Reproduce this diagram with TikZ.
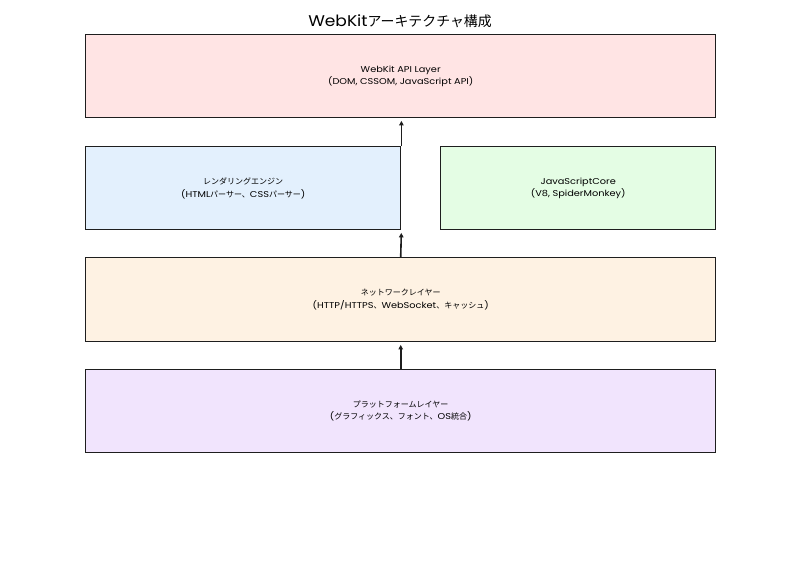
\documentclass[tikz,border=0pt]{standalone}
\usepackage{fontspec}
\setmainfont{Poppins}[FakeStretch=1.15]
\newfontfamily\ttl{Poppins}[FakeStretch=1.1]
\newfontfamily\jpw{Noto Sans CJK JP}
\newcommand{\tou}{{\jpw\fontsize{8}{12.5}\selectfont 、}}
\newcommand{\jt}[1]{{\jpw\fontsize{8}{12.5}\selectfont #1}}
\usetikzlibrary{arrows.meta}
\definecolor{apifill}{RGB}{255,228,228}
\definecolor{rendfill}{RGB}{227,240,253}
\definecolor{jsfill}{RGB}{228,253,228}
\definecolor{netfill}{RGB}{254,242,227}
\definecolor{platfill}{RGB}{241,228,253}
\definecolor{edge}{RGB}{30,30,30}
\tikzset{
  layerbox/.style={draw=edge, line width=1.4pt, anchor=north west, inner sep=0pt,
    align=center, font=\fontsize{8.5}{12.5}\selectfont},
  uparrow/.style={draw=edge, line width=1.6pt, -{Triangle[length=4.5pt,width=4.5pt]}, shorten >=2.5pt}
}
\begin{document}
\begin{tikzpicture}[x=1pt,y=-1pt]
\useasboundingbox (0,0) rectangle (800,570);
\node (title) at (400,21) {\ttl\fontsize{15.5}{17}\selectfont WebKit{\jpw\fontsize{13.9}{17}\selectfont アーキテクチャ構成}};
\node[layerbox, fill=apifill, minimum width=630pt, minimum height=83pt] (api) at (85,34)
  {WebKit API Layer\\(DOM, CSSOM, JavaScript API)};
\node[layerbox, fill=rendfill, minimum width=315pt, minimum height=83pt] (rend) at (85,146)
  {\jt{レンダリングエンジン}\\(HTML\jt{パーサー}\tou CSS\jt{パーサー})};
\node[layerbox, fill=jsfill, minimum width=275pt, minimum height=83pt] (js) at (440,146)
  {JavaScriptCore\\(V8, SpiderMonkey)};
\node[layerbox, fill=netfill, minimum width=630pt, minimum height=84pt] (net) at (85,257)
  {\jt{ネットワークレイヤー}\\(HTTP/HTTPS\tou WebSocket\tou\jt{キャッシュ})};
\node[layerbox, fill=platfill, minimum width=630pt, minimum height=83pt] (plat) at (85,369)
  {\jt{プラットフォームレイヤー}\\(\jt{グラフィックス}\tou\jt{フォント}\tou OS\jt{統合})};
\draw[uparrow] (plat.north) -- (net.south);
\draw[uparrow] (net.north) -- (rend.south east);
\draw[uparrow] (rend.north east) -- (rend.north east |- api.south);
\end{tikzpicture}
\end{document}
